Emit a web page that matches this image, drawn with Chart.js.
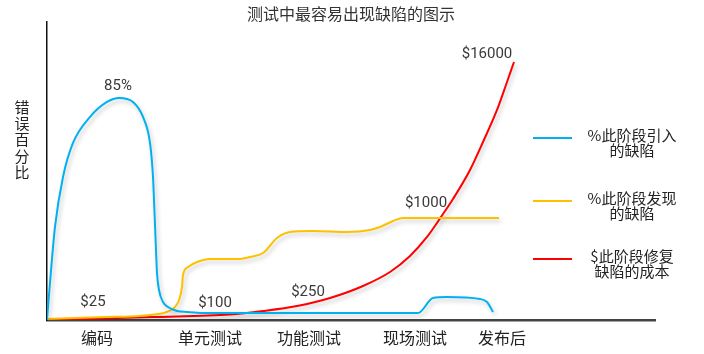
<!DOCTYPE html>
<html>
<head>
<meta charset="utf-8">
<script src="https://cdn.jsdelivr.net/npm/chart.js@4.4.0/dist/chart.umd.min.js"></script>
<style>
html,body{margin:0;padding:0;background:#fff;}
#wrap{width:704px;height:354px;position:relative;}
</style>
</head>
<body>
<div id="wrap"><canvas id="c" width="704" height="354"></canvas></div>
<script>
// ---- data ----
const chartTitle = '测试中最容易出现缺陷的图示';
const yTitle = '错误百分比';
const categories = ['编码', '单元测试', '功能测试', '现场测试', '发布后'];
const categoryPos = [50, 163, 262, 368, 455];

const seriesNames = [['%此阶段引入', '的缺陷'], ['%此阶段发现', '的缺陷'], ['$此阶段修复', '缺陷的成本']];
const seriesColors = ['#00B0F0', '#FFC000', '#FF0000'];

const introducedX = [0, 2, 8, 16, 26, 43, 60, 72, 86, 96, 103, 106, 107, 109, 110, 112, 116, 121, 130, 140, 156, 253, 371, 386, 400, 433, 440, 446];
const introducedY = [0, 25, 93, 143, 177, 203, 218, 222, 218, 203, 177, 143, 120, 70, 47, 30, 18, 13, 9, 8, 7, 7, 7, 22, 23, 21, 18, 8];

const foundX = [0, 60, 83, 103, 120, 128, 132, 135, 136, 141, 150, 163, 193, 203, 216, 230, 243, 266, 300, 323, 333, 346, 356, 452];
const foundY = [1, 3, 3.5, 5, 8, 13, 20, 33, 45, 53, 58, 61, 61, 63, 67, 82, 88, 89, 88, 90, 93, 99, 102, 102];

const costX = [0, 106, 183, 216, 250, 283, 316, 343, 363, 380, 396, 406, 423, 436, 450, 460, 467];
const costY = [0, 3, 5.5, 9, 14, 22, 34, 48, 64, 83, 106, 121, 150, 178, 210, 238, 258];

const noteLabels = ['85%', '$25', '$100', '$250', '$1000', '$16000'];
const noteX = [71, 46, 168, 261, 379, 440];
const noteY = [234, 18, 17, 28, 117, 266];

// ---- build ----
function pts(xs, ys) { return xs.map((x, i) => ({ x: x, y: ys[i] })); }
const seriesData = [pts(introducedX, introducedY), pts(foundX, foundY), pts(costX, costY)];

const shadowPlugin = {
  id: 'shadow',
  beforeDatasetDraw(chart) {
    const ctx = chart.ctx;
    ctx.save();
    ctx.shadowColor = 'rgba(0,0,0,0.22)';
    ctx.shadowBlur = 4;
    ctx.shadowOffsetX = 2;
    ctx.shadowOffsetY = 3;
  },
  afterDatasetDraw(chart) { chart.ctx.restore(); }
};

const extrasPlugin = {
  id: 'extras',
  afterDraw(chart) {
    const ctx = chart.ctx;
    const xs = chart.scales.x, ys = chart.scales.y;
    ctx.save();
    // value notes
    ctx.font = '15px Roboto, "Liberation Sans", sans-serif';
    ctx.fillStyle = '#3a3a3a';
    ctx.textAlign = 'center';
    ctx.textBaseline = 'middle';
    noteLabels.forEach((t, i) => {
      ctx.fillText(t, xs.getPixelForValue(noteX[i]), ys.getPixelForValue(noteY[i]));
    });
    // y title stacked
    ctx.font = '15px "Noto Sans CJK SC", sans-serif';
    ctx.fillStyle = '#222';
    Array.from(yTitle).forEach((ch, i) => {
      ctx.fillText(ch, 22, 107 + i * 16.3);
    });
    // legend
    const lineYs = [138, 201, 259];
    seriesNames.forEach((lines, i) => {
      const ly = lineYs[i];
      ctx.strokeStyle = seriesColors[i];
      ctx.lineWidth = 2;
      ctx.beginPath();
      ctx.moveTo(533, ly);
      ctx.lineTo(572, ly);
      ctx.stroke();
      ctx.fillStyle = '#222';
      ctx.font = '15px "Noto Sans CJK SC", sans-serif';
      lines.forEach((t, j) => {
        ctx.fillText(t, 632, ly - 3 + j * 15.5);
      });
    });
    ctx.restore();
  }
};

new Chart(document.getElementById('c'), {
  type: 'line',
  data: {
    datasets: seriesData.map((d, i) => ({
      label: seriesNames[i].join(''),
      data: d,
      borderColor: seriesColors[i],
      backgroundColor: seriesColors[i],
      borderWidth: 2,
      pointRadius: 0,
      fill: false,
      cubicInterpolationMode: 'monotone'
    }))
  },
  options: {
    responsive: false,
    animation: false,
    events: [],
    layout: { padding: { left: 47, right: 49, top: 0, bottom: 0 } },
    plugins: {
      legend: { display: false },
      tooltip: { enabled: false },
      title: {
        display: true,
        text: chartTitle,
        color: '#333',
        font: { family: '"Noto Sans CJK SC", sans-serif', size: 16, weight: 'normal', lineHeight: 1.06 },
        padding: { top: 5, bottom: 0 }
      }
    },
    scales: {
      x: {
        type: 'linear',
        min: 0,
        max: 608,
        grid: { display: false, drawTicks: false },
        border: { display: true, color: '#444', width: 2.5 },
        afterBuildTicks: (s) => { s.ticks = categoryPos.map(v => ({ value: v })); },
        afterFit: (s) => { s.height = 34; },
        ticks: {
          autoSkip: false,
          maxRotation: 0,
          padding: 8,
          color: '#222',
          font: { family: '"Noto Sans CJK SC", sans-serif', size: 16 },
          callback: (v, i) => categories[i]
        }
      },
      y: {
        min: 0,
        max: 298,
        grid: { display: false, drawTicks: false },
        border: { display: true, color: '#111', width: 1.5 },
        ticks: { display: false },
        afterFit: (s) => { s.width = 0; }
      }
    }
  },
  plugins: [shadowPlugin, extrasPlugin]
});
</script>
</body>
</html>
